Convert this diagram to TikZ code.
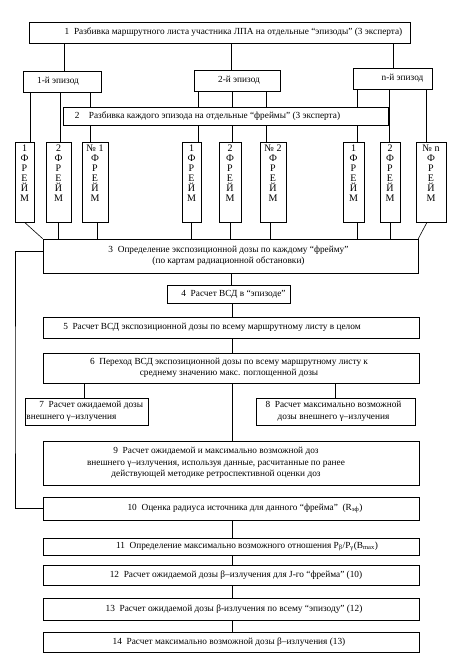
\documentclass[tikz,border=0pt]{standalone}
\usepackage{fontspec}
\setmainfont{Liberation Serif}
\newcommand\mainfs{\fontsize{9.3}{11.5}\selectfont}
\newcommand\framefs{\fontsize{10}{10}\selectfont}
\tikzset{
  blk/.style={draw=black, line width=0.6pt, rectangle, inner sep=0pt},
  txt/.style={font=\mainfs, align=center, inner sep=0pt},
  ftxt/.style={font=\framefs, align=center, inner sep=0pt, anchor=north},
  ln/.style={draw=black, line width=0.6pt},
}
% name, left, top, right, bottom, text x-offset, text
\newcommand\mybox[7]{%
  \node[blk, minimum width={(#4-#2)*1pt}, minimum height={(#5-#3)*1pt}] (#1) at ({(#2+#4)/2},{(#3+#5)/2}) {};
  \node[txt] (#1t) at ([xshift=#6pt]#1.center) {#7};}
% name, left, right, first label
\newcommand\myframe[4]{%
  \node[blk, minimum width={(#3-#2)*1pt}, minimum height=80pt] (#1) at ({(#2+#3)/2},182) {};
  \node[ftxt] (#1t) at ([yshift=-3pt]#1.north) {#4\\Ф\\Р\\Е\\Й\\М};}
\begin{document}
\begin{tikzpicture}[x=1pt,y=-1pt]
\useasboundingbox (0,0) rectangle (454,660);
% boxes
\mybox{b1}{29}{22}{410}{43}{14}{1\enspace Разбивка маршрутного листа участника ЛПА на отдельные “эпизоды” (3 эксперта)}
\mybox{ep1}{23}{71}{101}{92}{-4}{1-й эпизод}
\mybox{ep2}{194}{70}{280}{91}{2}{2-й эпизод}
\mybox{epn}{353}{68}{432}{89}{10}{n-й эпизод}
\mybox{b2}{63}{107}{388}{125}{-18}{2\quad Разбивка каждого эпизода на отдельные “фреймы” (3 эксперта)}
\myframe{f11}{15}{34}{1}
\myframe{f12}{46}{71}{2}
\myframe{f13}{82}{108}{№ 1}
\myframe{f21}{182}{201}{1}
\myframe{f22}{219}{241}{2}
\myframe{f23}{260}{286}{№ 2}
\myframe{f31}{343}{364}{1}
\myframe{f32}{380}{400}{2}
\myframe{f33}{416}{446}{№ n}
\mybox{b3}{43}{239}{418}{273}{-2}{3\enspace Определение экспозиционной дозы по каждому “фрейму”\\(по картам радиационной обстановки)}
\mybox{b4}{167}{285}{290}{303}{5}{4\enspace Расчет ВСД в “эпизоде”}
\mybox{b5}{43}{317}{419}{338}{-19}{5\enspace Расчет ВСД экспозиционной дозы по всему маршрутному листу в целом}
\mybox{b6}{43}{353}{419}{383}{-2}{6\enspace Переход ВСД экспозиционной дозы по всему маршрутному листу к\\среднему значению макс. поглощенной дозы}
\node[blk, minimum width=123pt, minimum height=27pt] (b7) at (86.5,411.5) {};
\node[txt, align=left, anchor=west] (b7t) at ([xshift=1.5pt]b7.west) {\hspace*{13pt}7\enspace Расчет ожидаемой дозы\\внешнего γ–излучения};
\mybox{b8}{256}{398}{415}{425}{-2}{8\enspace Расчет максимально возможной\\дозы внешнего γ–излучения}
\mybox{b9}{43}{441}{419}{485}{-15}{9\enspace Расчет ожидаемой и максимально возможной доз\\внешнего γ–излучения, используя данные, расчитанные по ранее\\действующей методике ретроспективной оценки доз}
\mybox{b10}{43}{497}{419}{520}{14}{10\enspace Оценка радиуса источника для данного “фрейма”\enspace (R\textsubscript{эф})}
\mybox{b11}{43}{538}{419}{555}{16}{11\enspace Определение максимально возможного отношения P\textsubscript{β}/P\textsubscript{γ}(B\textsubscript{max})}
\mybox{b12}{43}{565}{419}{585}{5}{12\enspace Расчет ожидаемой дозы β–излучения для J-го “фрейма” (10)}
\mybox{b13}{43}{598}{419}{620}{3}{13\enspace Расчет ожидаемой дозы β-излучения по всему “эпизоду” (12)}
\mybox{b14}{43}{632}{419}{652}{-2}{14\enspace Расчет максимально возможной дозы β–излучения (13)}
% x positions of vertical connectors
\coordinate (xa) at (64,0);
\coordinate (xb) at (231,0);
\coordinate (xc) at (393,0);
\coordinate (xd) at (30,0);
\coordinate (xe) at (60,0);
\coordinate (xf) at (90,0);
\coordinate (xg) at (198,0);
\coordinate (xh) at (232,0);
\coordinate (xi) at (266,0);
\coordinate (xj) at (357,0);
\coordinate (xk) at (389,0);
\coordinate (xl) at (426,0);
\coordinate (xm) at (58,0);
\coordinate (xn) at (97,0);
\coordinate (xo) at (191,0);
\coordinate (xp) at (230,0);
\coordinate (xq) at (270,0);
\coordinate (xr) at (390,0);
\coordinate (xs) at (84,0);
\coordinate (xt) at (335,0);
\coordinate (lc) at (15,400);
% block 1 to episodes
\draw[ln] (xa |- b1.south) -- (xa |- ep1.north);
\draw[ln] (xb |- b1.south) -- (xb |- ep2.north);
\draw[ln] (xc |- b1.south) -- (xc |- epn.north);
% episode 1
\draw[ln] (xd |- ep1.south) -- (xd |- f11.north);
\draw[ln] (xe |- ep1.south) -- (xe |- f12.north);
\draw[ln] (xf |- ep1.south) -- (xf |- b2.north);
\draw[ln] (xf |- b2.south) -- (xf |- f13.north);
% episode 2
\draw[ln] (xg |- ep2.south) -- (xg |- b2.north);
\draw[ln] (xh |- ep2.south) -- (xh |- b2.north);
\draw[ln] (xi |- ep2.south) -- (xi |- b2.north);
\draw[ln] (xg |- b2.south) -- (xg |- f21.north);
\draw[ln] (xh |- b2.south) -- (xh |- f22.north);
\draw[ln] (xi |- b2.south) -- (xi |- f23.north);
% episode n
\draw[ln] (xj |- epn.south) -- (xj |- b2.north);
\draw[ln] (xj |- b2.south) -- (xj |- f31.north);
\draw[ln] (xk |- epn.south) -- (xk |- f32.north);
\draw[ln] (xl |- epn.south) -- (xl |- f33.north);
% frames to block 3
\draw[ln] (f11.south) -- (b3.north west);
\draw[ln] (xm |- f12.south) -- (xm |- b3.north);
\draw[ln] (xn |- f13.south) -- (xn |- b3.north);
\draw[ln] (xo |- f21.south) -- (xo |- b3.north);
\draw[ln] (xp |- f22.south) -- (xp |- b3.north);
\draw[ln] (xq |- f23.south) -- (xq |- b3.north);
\draw[ln] (xj |- f31.south) -- (xj |- b3.north);
\draw[ln] (xr |- f32.south) -- (xr |- b3.north);
\draw[ln] ([xshift=-4pt]f33.south) -- (b3.north east);
% main chain
\draw[ln] (xb |- b3.south) -- (xb |- b4.north);
\draw[ln] (xh |- b4.south) -- (xh |- b5.north);
\draw[ln] (xh |- b5.south) -- (xh |- b6.north);
\draw[ln] (xs |- b6.south) -- (xs |- b7.north);
\draw[ln] (xh |- b6.south) -- (xh |- b9.north);
\draw[ln] (xt |- b6.south) -- (xt |- b8.north);
\draw[ln] ([yshift=5pt]b3.west) -| (lc) |- (b10.west);
\draw[ln] (xh |- b10.south) -- (xh |- b11.north);
\draw[ln] (xh |- b11.south) -- (xh |- b12.north);
\draw[ln] (xh |- b12.south) -- (xh |- b13.north);
\draw[ln] (xh |- b13.south) -- (xh |- b14.north);
\end{tikzpicture}
\end{document}
